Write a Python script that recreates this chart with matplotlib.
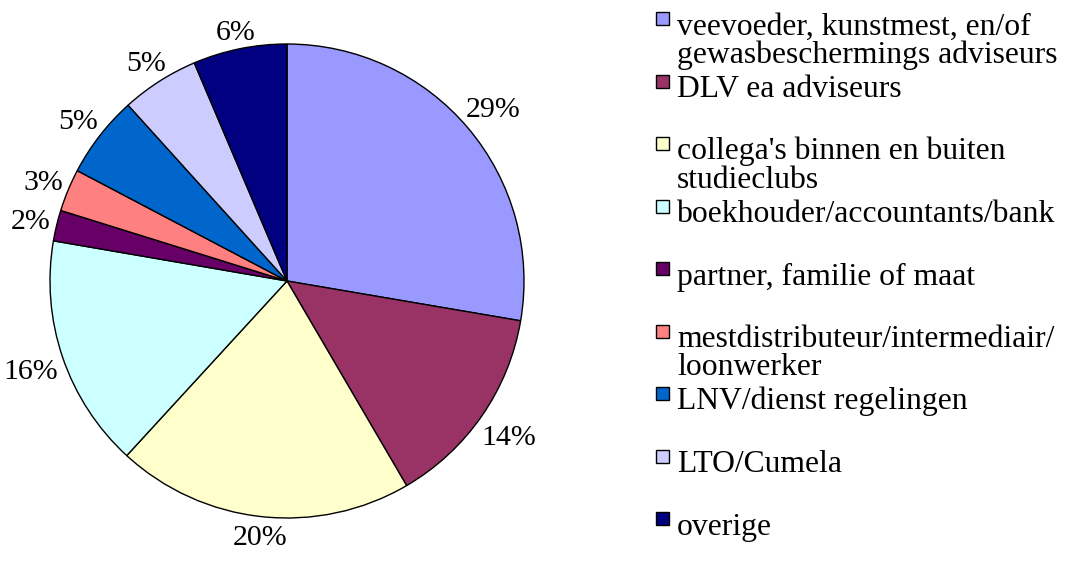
import matplotlib
matplotlib.use("Agg")
import numpy as np
import matplotlib.pyplot as plt
from matplotlib.patches import Rectangle

plt.rcParams['font.family'] = ['Liberation Serif', 'DejaVu Serif']

# slice shares, labels as printed on the chart
categories = [
    "veevoeder, kunstmest, en/of\ngewasbeschermings adviseurs",
    "DLV ea adviseurs",
    "collega's binnen en buiten\nstudieclubs",
    "boekhouder/accountants/bank",
    "partner, familie of maat",
    "mestdistributeur/intermediair/\nloonwerker",
    "LNV/dienst regelingen",
    "LTO/Cumela",
    "overige",
]
shares = [27.7, 13.9, 20.25, 15.9, 2.1, 2.9, 5.6, 5.3, 6.4]
pct_labels = ["29%", "14%", "20%", "16%", "2%", "3%", "5%", "5%", "6%"]
colors = ["#9999FF", "#993366", "#FFFFCC", "#CCFFFF", "#660066",
          "#FF8080", "#0066CC", "#CCCCFF", "#000080"]

W, H = 1066, 563
fig = plt.figure(figsize=(W / 100, H / 100), dpi=100)

# pie centre ~ (287, 281) px, radius ~ 237 px
cx, cy, r = 287, 281, 237
ax = fig.add_axes([(cx - r) / W, (H - cy - r) / H, 2 * r / W, 2 * r / H])

wedges, _ = ax.pie(
    shares, colors=colors, startangle=90, counterclock=False, radius=1,
    wedgeprops=dict(edgecolor='black', linewidth=1.0))
ax.set_xlim(-1, 1)
ax.set_ylim(-1, 1)
ax.axis('off')

# percentage labels: box just outside the rim, like Excel does it
fs = 21.5
em = fs * 100 / 72
renderer = fig.canvas.get_renderer()
gap = 5
for w, lab in zip(wedges, pct_labels):
    th = np.deg2rad((w.theta1 + w.theta2) / 2)
    t = ax.text(0, 0, lab, fontsize=fs, ha='center', va='baseline')
    hw = t.get_window_extent(renderer).width / 2
    hh = 0.338 * em
    d = (r + gap + abs(np.cos(th)) * hw + abs(np.sin(th)) * hh) / r
    t.set_position((d * np.cos(th), d * np.sin(th) - hh / r))

# legend drawn by hand: Excel spaces entries evenly
tr = fig.transFigure
step = 62.5
for i, (lab, col) in enumerate(zip(categories, colors)):
    ymid = 18.5 + step * i
    fig.add_artist(Rectangle((656 / W, (H - ymid - 6.5) / H), 13 / W, 13 / H,
                             transform=tr, facecolor=col, edgecolor='black',
                             linewidth=1.0))
    for k, line in enumerate(lab.split("\n")):
        fig.text(677 / W, (H - ymid - 16 - 28 * k) / H, line, fontsize=22.8,
                 va='baseline', ha='left')

fig.savefig("out.png", dpi=100)
